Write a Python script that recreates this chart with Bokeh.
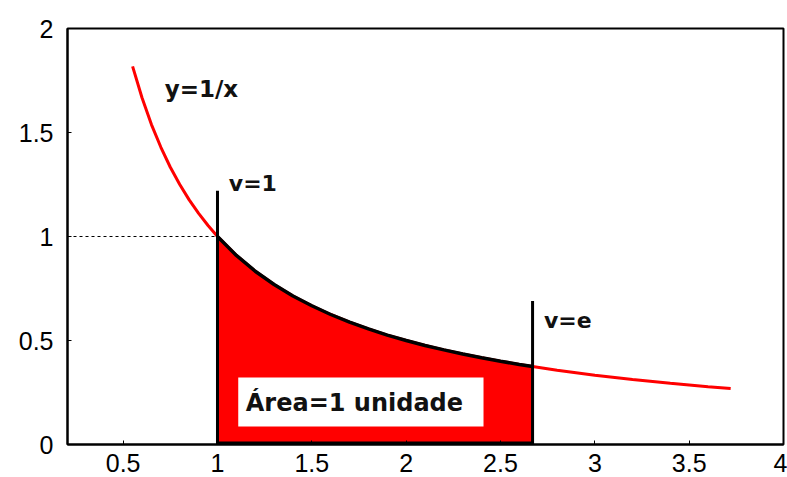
from bokeh.plotting import figure
from bokeh.models import Range1d, FixedTicker, Label
from bokeh.embed import file_html
from bokeh.resources import INLINE

# curve points (y = 1/x)
x_curve = [0.55, 0.6, 0.65, 0.7, 0.75, 0.8, 0.85, 0.9, 0.95, 1.0, 1.1, 1.2, 1.3, 1.4,
           1.5, 1.6, 1.7, 1.8, 1.9, 2.0, 2.1, 2.2, 2.3, 2.4, 2.5, 2.6, 2.67, 2.8,
           3.0, 3.2, 3.4, 3.6, 3.72]
y_curve = [1.818, 1.667, 1.538, 1.429, 1.333, 1.25, 1.176, 1.111, 1.053, 1.0, 0.909,
           0.833, 0.769, 0.714, 0.667, 0.625, 0.588, 0.556, 0.526, 0.5, 0.476, 0.455,
           0.435, 0.417, 0.4, 0.385, 0.375, 0.357, 0.333, 0.3125, 0.294, 0.278, 0.269]

area_start = 1.0
area_end = 2.67
x_ticks = [0.5, 1, 1.5, 2, 2.5, 3, 3.5, 4]
x_tick_labels = ["0.5", "1", "1.5", "2", "2.5", "3", "3.5", "4"]
y_ticks = [0, 0.5, 1, 1.5, 2]
y_tick_labels = ["0", "0.5", "1", "1.5", "2"]

p = figure(width=787, height=477, output_backend="svg", toolbar_location=None,
           x_range=Range1d(0.205, 4.0), y_range=Range1d(0, 2.0),
           min_border_left=67, min_border_top=28, min_border_right=4,
           min_border_bottom=33)
p.grid.visible = False
p.outline_line_color = "black"
p.outline_line_width = 2
p.background_fill_color = "white"
p.border_fill_color = "white"

for ax, ticks, labels in ((p.xaxis[0], x_ticks, x_tick_labels),
                          (p.yaxis[0], y_ticks, y_tick_labels)):
    ax.ticker = FixedTicker(ticks=ticks)
    ax.major_label_overrides = {t: l for t, l in zip(ticks, labels)}
    ax.major_tick_in = 4
    ax.major_tick_out = 0
    ax.minor_tick_line_color = None
    ax.axis_line_width = 2
    ax.axis_line_color = "black"
    ax.major_tick_line_color = "black"
    ax.major_label_text_font = "Liberation Sans"
    ax.major_label_text_font_size = "25px"
    ax.major_label_text_color = "black"
p.xaxis.major_label_standoff = 9
p.yaxis.major_label_standoff = 14

# filled area between 1 and e
xs_area = [x for x in x_curve if area_start <= x <= area_end]
ys_area = [y for x, y in zip(x_curve, y_curve) if area_start <= x <= area_end]
p.varea(x=xs_area, y1=[0] * len(xs_area), y2=ys_area, fill_color="#ff0000")

# red curve
p.line(x_curve, y_curve, line_color="#ff0000", line_width=3)
# black upper edge of area
p.line(xs_area, ys_area, line_color="black", line_width=3.5)
# bottom edge
p.line([area_start, area_end], [0.005, 0.005], line_color="black", line_width=4)

# vertical lines
p.line([area_start, area_start], [0, 1.22], line_color="black", line_width=3)
p.line([area_end, area_end], [0, 0.69], line_color="black", line_width=3)

# dashed horizontal at y=1
p.line([0.205, area_start], [1, 1], line_color="black", line_width=1.2, line_dash="3 3")

# white box with text
p.quad(left=1.11, right=2.41, bottom=0.087, top=0.322, fill_color="white",
       line_color=None)

font = "DejaVu Sans"
labels = [
    (0.72, 1.71, "y=1/x", "23px"),
    (1.06, 1.255, "v=1", "22px"),
    (2.73, 0.596, "v=e", "22px"),
    (1.15, 0.2, "Área=1 unidade", "24px"),
]
for lx, ly, txt, size in labels:
    p.add_layout(Label(x=lx, y=ly, text=txt, text_font=font, text_font_style="bold",
                       text_font_size=size, text_baseline="middle",
                       text_color="#111111"))

open("out.html", "w").write(file_html(p, INLINE))
